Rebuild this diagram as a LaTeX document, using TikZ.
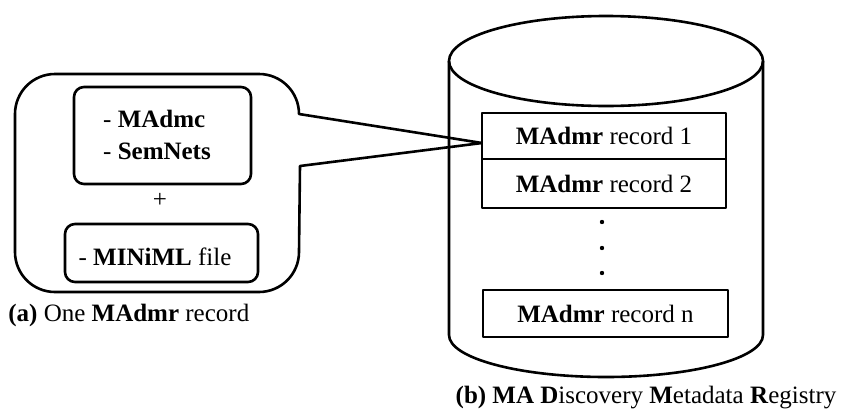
\documentclass[tikz,border=0pt]{standalone}
\usepackage{fontspec}
\setmainfont{Liberation Serif}
\begin{document}
\begin{tikzpicture}[x=0.5pt,y=0.5pt,
  ln/.style={line width=1.3pt,line join=round},
  txt/.style={inner sep=0pt,font=\fontsize{12.5}{15}\selectfont},
  rec/.style={ln,draw,fill=white,minimum width=122pt,minimum height=24pt,inner sep=0pt,font=\fontsize{12.5}{15}\selectfont}]
\useasboundingbox (0,0) rectangle (842,409);
% ---------- callout (a) ----------
\draw[ln] (482,266) -- (300,243) -- (299,157)
  arc[start angle=0,end angle=-90,radius=40] -- (55,117)
  arc[start angle=270,end angle=180,radius=40] -- (15,295)
  arc[start angle=180,end angle=90,radius=40] -- (259,335)
  arc[start angle=90,end angle=0,radius=40] -- cycle;
\node[ln,draw,rounded corners=5pt,minimum width=88.5pt,minimum height=48.5pt] (b1) at (162.5,273.5) {};
\node[txt,align=left] (t1) at (157,274) {- \textbf{MAdmc}\\[1pt]- \textbf{SemNets}};
\node[txt] (plus) at (160,209) {+};
\node[ln,draw,rounded corners=5pt,minimum width=96.5pt,minimum height=29pt] (b2) at (161.5,156) {};
\node[txt] (t2) at (155,152) {- \textbf{MINiML} file};
\node[txt,anchor=west] (capa) at (8,94) {\textbf{(a)} One \textbf{MAdmr} record};
% ---------- cylinder (b) ----------
\draw[ln] (449,348) -- (449,74) arc[start angle=180,end angle=360,x radius=157,y radius=42] -- (763,348);
\draw[ln] (606,348) ellipse[x radius=157,y radius=45];
\node[rec,minimum height=23pt] (r1) at (604,273) {\textbf{MAdmr} record 1};
\node[rec,minimum height=24.5pt] (r2) at (604,225.5) {\textbf{MAdmr} record 2};
\node[rec,minimum width=122.5pt,minimum height=23.5pt] (rn) at (605.5,95.5) {\textbf{MAdmr} record n};
\fill (602,187) circle[radius=2.2] (602,161) circle[radius=2.2] (602,136) circle[radius=2.2];
\node[txt] (capb) at (646,11) {\textbf{(b) MA D}iscovery \textbf{M}etadata \textbf{R}egistry};
\end{tikzpicture}
\end{document}
